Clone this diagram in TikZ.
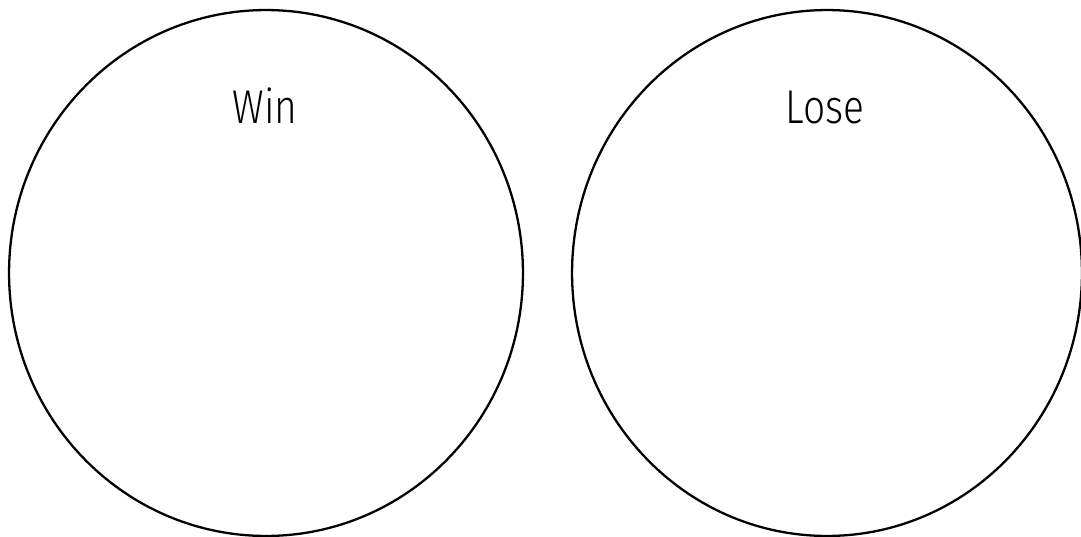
\documentclass[tikz,border=0pt]{standalone}
\usepackage{fontspec}
\setmainfont{Fira Sans}[UprightFont=* Light, FakeStretch=0.82]
\usetikzlibrary{shapes.geometric}

\begin{document}
\begin{tikzpicture}[x=0.02cm, y=-0.02cm, line join=round,
  bigring/.style={draw, ellipse, line width=1.3pt, inner sep=0pt},
  ringlabel/.style={font=\fontsize{27}{30}\selectfont, inner sep=0pt, anchor=base}]
\useasboundingbox (0,0) rectangle (1081,537);
% the two sets
\node[bigring, minimum width=10.28cm, minimum height=10.52cm] (win) at (266,273) {};
\node[bigring, minimum width=10.2cm, minimum height=10.52cm] (lose) at (827,273) {};
% labels
\node[ringlabel] (winlabel) at (265,123) {Win};
\node[ringlabel] (loselabel) at (825,123) {Lose};
\end{tikzpicture}
\end{document}
